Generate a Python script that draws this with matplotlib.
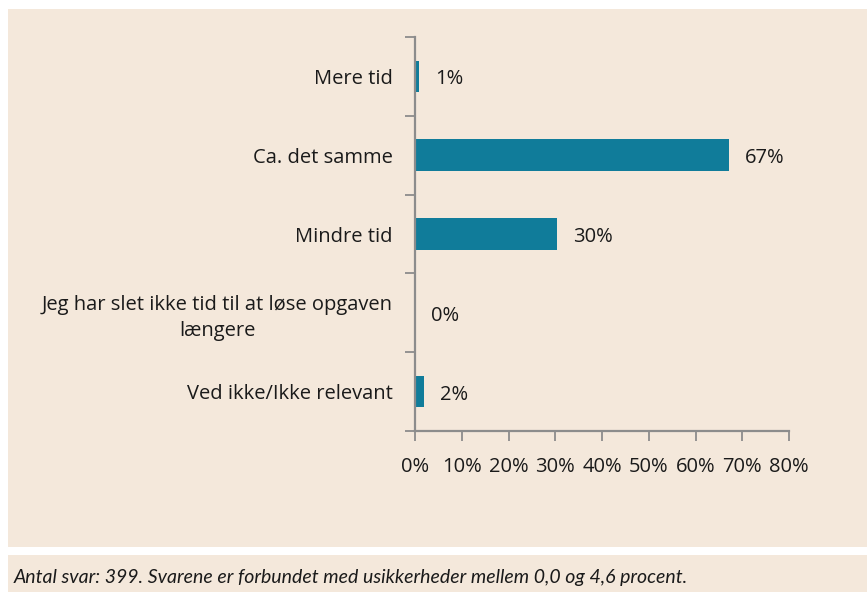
import matplotlib.pyplot as plt
from matplotlib.patches import Rectangle

# Data
categories = ['Mere tid', 'Ca. det samme', 'Mindre tid',
              'Jeg har slet ikke tid til at løse opgaven\nlængere', 'Ved ikke/Ikke relevant']
values = [0.9, 67.2, 30.3, 0.0, 1.9]
value_labels = ['1%', '67%', '30%', '0%', '2%']
x_ticks = [0, 10, 20, 30, 40, 50, 60, 70, 80]
note = 'Antal svar: 399. Svarene er forbundet med usikkerheder mellem 0,0 og 4,6 procent.'

bg = '#F4E8DB'
bar_color = '#107C9A'
axis_color = '#8C8C8C'

plt.rcParams['font.family'] = ['Open Sans', 'DejaVu Sans']

W, H = 867, 592
fig = plt.figure(figsize=(W / 100, H / 100), dpi=100, facecolor='white')

# beige panels (chart area and footer strip)
fig.patches.append(Rectangle((8 / W, 1 - 547 / H), (W - 8) / W, (547 - 9) / H,
                             transform=fig.transFigure, facecolor=bg, edgecolor='none', zorder=-5))
fig.patches.append(Rectangle((8 / W, 0), (W - 8) / W, (592 - 555) / H,
                             transform=fig.transFigure, facecolor=bg, edgecolor='none', zorder=-5))

ax = fig.add_axes([415 / W, 1 - 431 / H, (789 - 415) / W, (431 - 37) / H])
ax.set_zorder(2)
ax.set_facecolor('none')

y = list(range(len(categories)))
ax.barh(y, values, height=0.4, color=bar_color)
ax.set_ylim(len(categories) - 0.5, -0.5)
ax.set_xlim(0, 80)

fs = 14.5
for yi, v, lab in zip(y, values, value_labels):
    ax.annotate(lab, (v, yi), xytext=(16, -3), textcoords='offset pixels',
                ha='left', va='center', fontsize=fs, color='#1a1a1a')

ax.set_xticks(x_ticks)
ax.set_xticklabels([f'{t}%' for t in x_ticks])
ax.set_yticks([i - 0.5 for i in range(len(categories) + 1)], minor=False)
ax.set_yticklabels([])
ax.set_yticks(y, minor=True)
ax.set_yticklabels(categories, minor=True, ha='right', multialignment='center',
                   linespacing=1.35)
ax.tick_params(axis='y', which='minor', length=0, pad=16, labelsize=fs, labelcolor='#1a1a1a')
ax.tick_params(axis='y', which='major', length=7, width=1.3, color=axis_color)
ax.tick_params(axis='x', length=7, width=1.3, color=axis_color, labelsize=fs,
               labelcolor='#1a1a1a', pad=12)

for s in ['top', 'right']:
    ax.spines[s].set_visible(False)
for s in ['left', 'bottom']:
    ax.spines[s].set_color(axis_color)
    ax.spines[s].set_linewidth(1.6)

fig.text(14 / W, 1 - 577 / H, note, ha='left', va='center', fontsize=14,
         style='italic', family=['Lato', 'DejaVu Sans'], color='#1a1a1a')

plt.savefig('out.png', dpi=100, facecolor='white')
